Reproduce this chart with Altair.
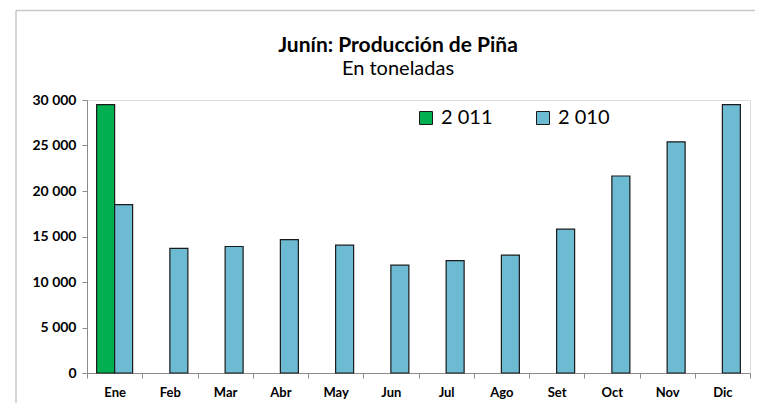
import altair as alt
import pandas as pd

months = ["Ene", "Feb", "Mar", "Abr", "May", "Jun", "Jul", "Ago", "Set", "Oct", "Nov", "Dic"]
series = ["2 011", "2 010"]
prod_2011 = [29500]
prod_2010 = [18500, 13700, 13900, 14650, 14050, 11850, 12350, 12950, 15800, 21650, 25400, 29500]
y_ticks = [0, 5000, 10000, 15000, 20000, 25000, 30000]
colors = ["#00B050", "#6CBBD3"]
title_text = "Junín: Producción de Piña"
subtitle_text = "En toneladas"

rows = []
for m, v in zip(months, prod_2011):
    rows.append({"mes": m, "serie": "2 011", "t": v})
for m, v in zip(months, prod_2010):
    rows.append({"mes": m, "serie": "2 010", "t": v})
df = pd.DataFrame(rows)

FONT = "Lato"
AX = "#8C8C8C"
FRAME = "#C8C8C8"

bars = alt.Chart(df).mark_bar(stroke="#1A1A1A", strokeWidth=1.2).encode(
    x=alt.X(
        "mes:N",
        sort=months,
        scale=alt.Scale(domain=months, paddingInner=0, paddingOuter=0),
        axis=alt.Axis(
            title=None, labelAngle=0, tickBand="extent", tickSize=5,
            labelPadding=8, labelFont=FONT, labelFontSize=13, labelFontWeight="bold",
            labelColor="black", domainColor=AX, tickColor=AX,
        ),
    ),
    xOffset=alt.XOffset(
        "serie:N", sort=series,
        scale=alt.Scale(domain=series, paddingInner=0, paddingOuter=0.535),
    ),
    y=alt.Y(
        "t:Q",
        scale=alt.Scale(domain=[0, 30000], nice=False),
        axis=alt.Axis(
            title=None, values=y_ticks, grid=False, tickSize=5, labelPadding=6,
            labelExpr="replace(format(datum.value, ','), ',', ' ')",
            labelFont=FONT, labelFontSize=14, labelFontWeight="bold", labelColor="black",
            domainColor=AX, tickColor=AX,
        ),
    ),
    color=alt.Color(
        "serie:N",
        sort=series,
        scale=alt.Scale(domain=series, range=colors),
        legend=alt.Legend(
            title=None, orient="none", legendX=329, legendY=8, direction="horizontal",
            symbolType="square", symbolSize=169, symbolStrokeColor="#1A1A1A",
            symbolStrokeWidth=1, labelFont=FONT, labelFontSize=20, labelColor="black",
            labelOffset=5, columnPadding=40,
        ),
    ),
)

one = pd.DataFrame({"k": [0]})
frame_top = alt.Chart(one).mark_rule(color=FRAME, strokeWidth=1.5).encode(
    x=alt.value(-71), x2=alt.value(680), y=alt.value(-89.5)
)
frame_left = alt.Chart(one).mark_rule(color=FRAME, strokeWidth=1.5).encode(
    x=alt.value(-71), y=alt.value(-89.5), y2=alt.value(320)
)
title_mark = alt.Chart(one).mark_text(
    font=FONT, fontSize=21, fontWeight="bold", color="black",
    align="center", baseline="alphabetic",
).encode(x=alt.value(311), y=alt.value(-48), text=alt.value(title_text))
subtitle_mark = alt.Chart(one).mark_text(
    font=FONT, fontSize=20, color="black", align="center", baseline="alphabetic",
).encode(x=alt.value(311), y=alt.value(-25), text=alt.value(subtitle_text))

chart = alt.layer(frame_top, frame_left, title_mark, subtitle_mark, bars).properties(
    width=663,
    height=273,
    autosize=alt.AutoSizeParams(type="none"),
    padding={"left": 79, "top": 92, "right": 5, "bottom": 30},
).configure_view(stroke=None).configure(background="white")

chart.save("out.html", embed_options={"renderer": "svg", "actions": False})
